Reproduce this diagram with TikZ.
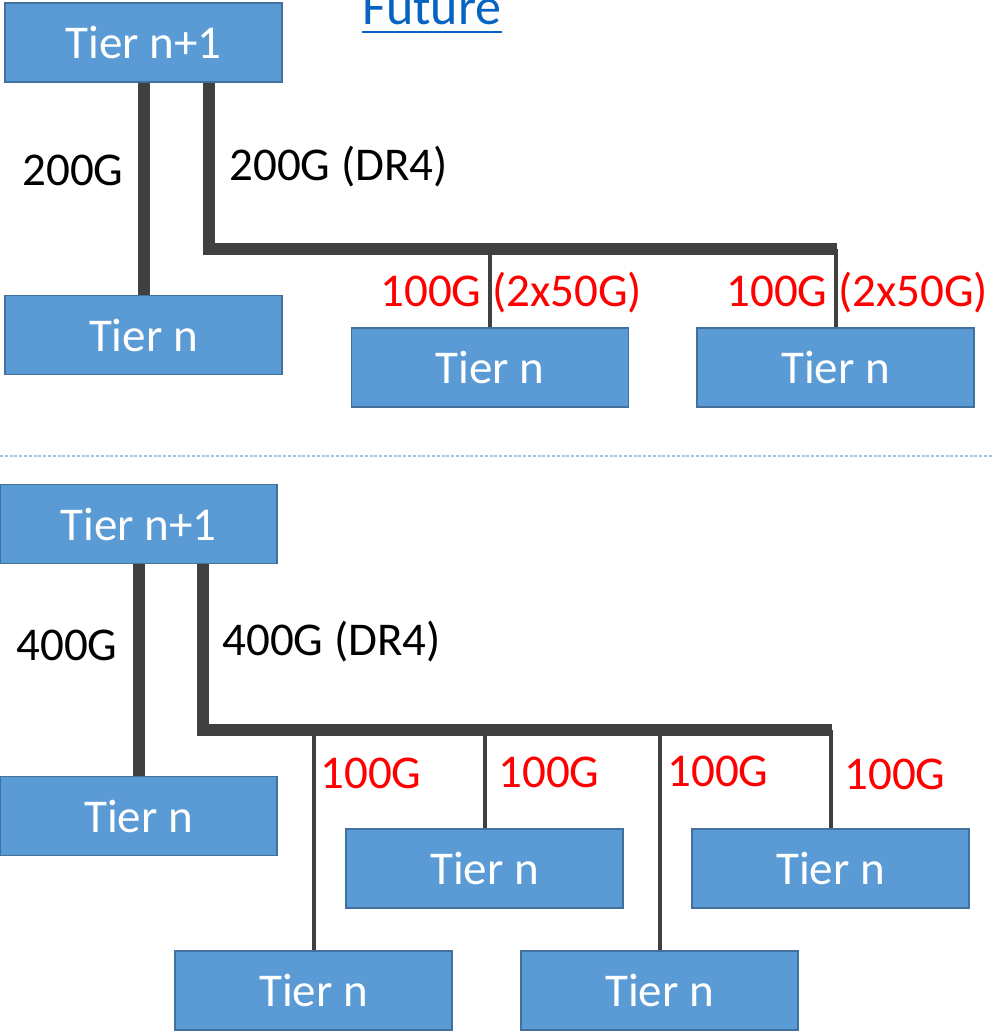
\documentclass[tikz,border=0pt]{standalone}
\usepackage{fontspec}
\setmainfont{Carlito}
\usetikzlibrary{positioning}

\definecolor{boxfill}{HTML}{5B9BD5}
\definecolor{boxline}{HTML}{41719C}
\definecolor{wire}{HTML}{404040}
\definecolor{linkblue}{HTML}{0563C1}
\definecolor{sepblue}{HTML}{9DC3E6}

\tikzset{
  tier/.style={draw=boxline, fill=boxfill, line width=0.6pt, text=white,
    minimum width=138.5pt, minimum height=39.5pt, inner sep=0pt,
    font=\fontsize{23.5}{28}\selectfont},
  trunk/.style={draw=wire, line width=6pt},
  branch/.style={draw=wire, line width=2pt},
  rate/.style={anchor=base west, inner sep=0pt, font=\fontsize{23.5}{28}\selectfont},
  redrate/.style={rate, text=red},
}

\begin{document}
\begin{tikzpicture}[x=0.5pt,y=-0.5pt]
\useasboundingbox (0,0) rectangle (994,1033);

\node[anchor=base west, inner sep=0pt, text=linkblue, font=\fontsize{26}{30}\selectfont] (future) at (362,25) {Future};
\draw[linkblue, line width=1.2pt] ([yshift=-3.5pt]future.base west) -- ([yshift=-3.5pt]future.base east);

% 200G
\node[tier] (up1) at (143.5,42.5) {Tier n+1};
\node[tier] (low1) at (143.5,335) {Tier n};
\node[tier] (low2) at (490,367.5) {Tier n};
\node[tier] (low3) at (835.5,367.5) {Tier n};

\coordinate (bus1) at (209,249);
\coordinate (bus1end) at (837,249);

\draw[trunk] (up1.south) -- (low1.north);
\draw[trunk, line join=miter] (up1.south -| bus1) |- (bus1end);
\draw[branch] (low2.north) -- (low2.north |- bus1);
\draw[branch] (low3.north) -- (low3.north |- bus1);

\node[rate] (r200) at (22,185) {200G};
\node[rate] (r200dr) at (229,180) {200G (DR4)};
\node[redrate] (r100a) at (380,306) {100G (2x50G)};
\node[redrate] (r100b) at (726,306) {100G (2x50G)};

\draw[sepblue, line width=0.85pt, dash pattern=on 1.5pt off 0.9pt] (0,456) -- (994,456);

% 400G
\node[tier] (up2) at (138.5,524) {Tier n+1};
\node[tier] (low4) at (138.5,816) {Tier n};
\node[tier] (low5) at (484.5,868.5) {Tier n};
\node[tier] (low6) at (830.5,868.5) {Tier n};
\node[tier] (low7) at (313.5,990.5) {Tier n};
\node[tier] (low8) at (659.5,990.5) {Tier n};

\coordinate (bus2) at (203,730);
\coordinate (bus2end) at (832,730);

\draw[trunk] (up2.south) -- (low4.north);
\draw[trunk, line join=miter] (up2.south -| bus2) |- (bus2end);
\foreach \b in {low7,low5,low8,low6}
  \draw[branch] (\b.north) -- (\b.north |- bus2);

\node[rate] (r400) at (16,660) {400G};
\node[rate] (r400dr) at (222,655) {400G (DR4)};
\node[redrate] (r100c) at (320,788) {100G};
\node[redrate] (r100d) at (498,787) {100G};
\node[redrate] (r100e) at (667,786) {100G};
\node[redrate] (r100f) at (844,789) {100G};
\end{tikzpicture}
\end{document}
